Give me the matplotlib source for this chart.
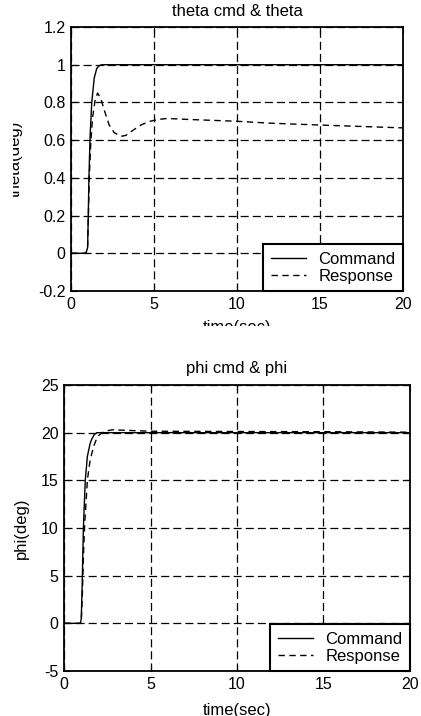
import matplotlib
matplotlib.use("Agg")
import matplotlib.pyplot as plt
from matplotlib.patches import Rectangle

plt.rcParams['font.family'] = ['Liberation Sans', 'DejaVu Sans']
plt.rcParams['lines.scale_dashes'] = False

# ---- data ----
theta_t_cmd = [0, 0.9, 1.0, 1.04, 1.08, 1.15, 1.25, 1.4, 1.55, 1.7, 1.85, 20]
theta_cmd = [0, 0, 0.03, 0.2, 0.4, 0.62, 0.8, 0.93, 0.98, 0.995, 1.0, 1.0]
theta_t_rsp = [0, 0.9, 1.0, 1.05, 1.1, 1.2, 1.3, 1.45, 1.6, 1.8, 2.0, 2.3, 2.6, 3.0, 3.3, 3.7, 4.2,
               4.75, 5.3, 5.8, 7.0, 8.5, 10, 12, 15, 20]
theta_rsp = [0, 0, 0.03, 0.2, 0.4, 0.6, 0.72, 0.81, 0.85, 0.82, 0.76, 0.68, 0.64, 0.62, 0.625,
             0.65, 0.68, 0.70, 0.71, 0.715, 0.71, 0.705, 0.70, 0.69, 0.68, 0.665]

phi_t_cmd = [0, 0.95, 1.0, 1.05, 1.12, 1.23, 1.35, 1.5, 1.6, 1.75, 1.9, 20]
phi_cmd = [0, 0, 0.5, 4, 10, 15, 17.5, 18.8, 19.3, 19.8, 20, 20]
phi_t_rsp = [0, 0.95, 1.0, 1.06, 1.14, 1.2, 1.35, 1.5, 1.7, 1.85, 2.0, 2.2, 2.5, 2.8, 3.5, 5, 10, 15, 20]
phi_rsp = [0, 0, 0.3, 3, 8, 10.5, 15, 17, 18.5, 19.2, 19.7, 20.0, 20.2, 20.3, 20.25, 20.15, 20.12, 20.1, 20.05]

theta_yticks = [-0.2, 0, 0.2, 0.4, 0.6, 0.8, 1, 1.2]
theta_yticklabels = ['-0.2', '0', '0.2', '0.4', '0.6', '0.8', '1', '1.2']
phi_yticks = [-5, 0, 5, 10, 15, 20, 25]
xticks = [0, 5, 10, 15, 20]

W, H = 421, 716
fig = plt.figure(figsize=(W / 100, H / 100), dpi=100)

FS_TICK = 11.5
FS = 12
grid_dash = (5.8, 2.9)
rsp_dash = (4.6, 3.2)


def make_ax(l, t, r, b):
    return fig.add_axes([l / W, 1 - b / H, (r - l) / W, (b - t) / H])


def style(ax, yticks, ylabels, ylim):
    ax.set_xlim(0, 20)
    ax.set_ylim(*ylim)
    ax.set_xticks(xticks)
    ax.set_xticklabels([str(x) for x in xticks], fontsize=FS_TICK)
    ax.set_yticks(yticks)
    ax.set_yticklabels(ylabels, fontsize=FS_TICK)
    ax.tick_params(direction='in', length=4, width=0.8, top=True, right=True, pad=4)
    for s in ax.spines.values():
        s.set_linewidth(1.3)
        s.set_color('black')
    ax.grid(True, color='black', linewidth=0.9, linestyle=(0, grid_dash))
    ax.set_axisbelow(True)


def legend(ax):
    lg = ax.legend(loc='lower right', borderaxespad=0, fancybox=False, fontsize=FS,
                   handlelength=2.1, handletextpad=0.75, labelspacing=0.12,
                   borderpad=0.45, framealpha=1)
    lg.get_frame().set_edgecolor('black')
    lg.get_frame().set_linewidth(1.5)


# ---- top ----
ax1 = make_ax(71, 27, 403, 291)
ax1.plot(theta_t_cmd, theta_cmd, color='black', lw=1.0, label='Command')
ax1.plot(theta_t_rsp, theta_rsp, color='black', lw=1.0, linestyle=(0, rsp_dash), label='Response')
style(ax1, theta_yticks, theta_yticklabels, (-0.2, 1.2))
ax1.set_title('theta cmd & theta', fontsize=FS, pad=8)
legend(ax1)
fig.text(237 / W, 1 - 327 / H, 'time(sec)', fontsize=FS, ha='center', va='center')
fig.text(15 / W, 1 - 159 / H, 'theta(deg)', fontsize=FS, ha='center', va='center', rotation=90)

# ---- bottom ----
ax2 = make_ax(64, 385, 410, 671)
ax2.plot(phi_t_cmd, phi_cmd, color='black', lw=1.0, label='Command')
ax2.plot(phi_t_rsp, phi_rsp, color='black', lw=1.0, linestyle=(0, rsp_dash), label='Response')
style(ax2, phi_yticks, [str(v) for v in phi_yticks], (-5, 25))
ax2.set_title('phi cmd & phi', fontsize=FS, pad=9)
legend(ax2)
fig.text(237 / W, 1 - 710 / H, 'time(sec)', fontsize=FS, ha='center', va='center')
fig.text(21 / W, 1 - 528 / H, 'phi(deg)', fontsize=FS, ha='center', va='center', rotation=90)

# cropped regions of the original scan
fig.patches.append(Rectangle((0, 1 - 352 / H), 1, (352 - 326) / H, transform=fig.transFigure,
                             facecolor='white', edgecolor='none', zorder=10))
fig.patches.append(Rectangle((0, 1 - 340 / H), 13 / W, 340 / H, transform=fig.transFigure,
                             facecolor='white', edgecolor='none', zorder=10))

fig.savefig('out.png', dpi=100)
